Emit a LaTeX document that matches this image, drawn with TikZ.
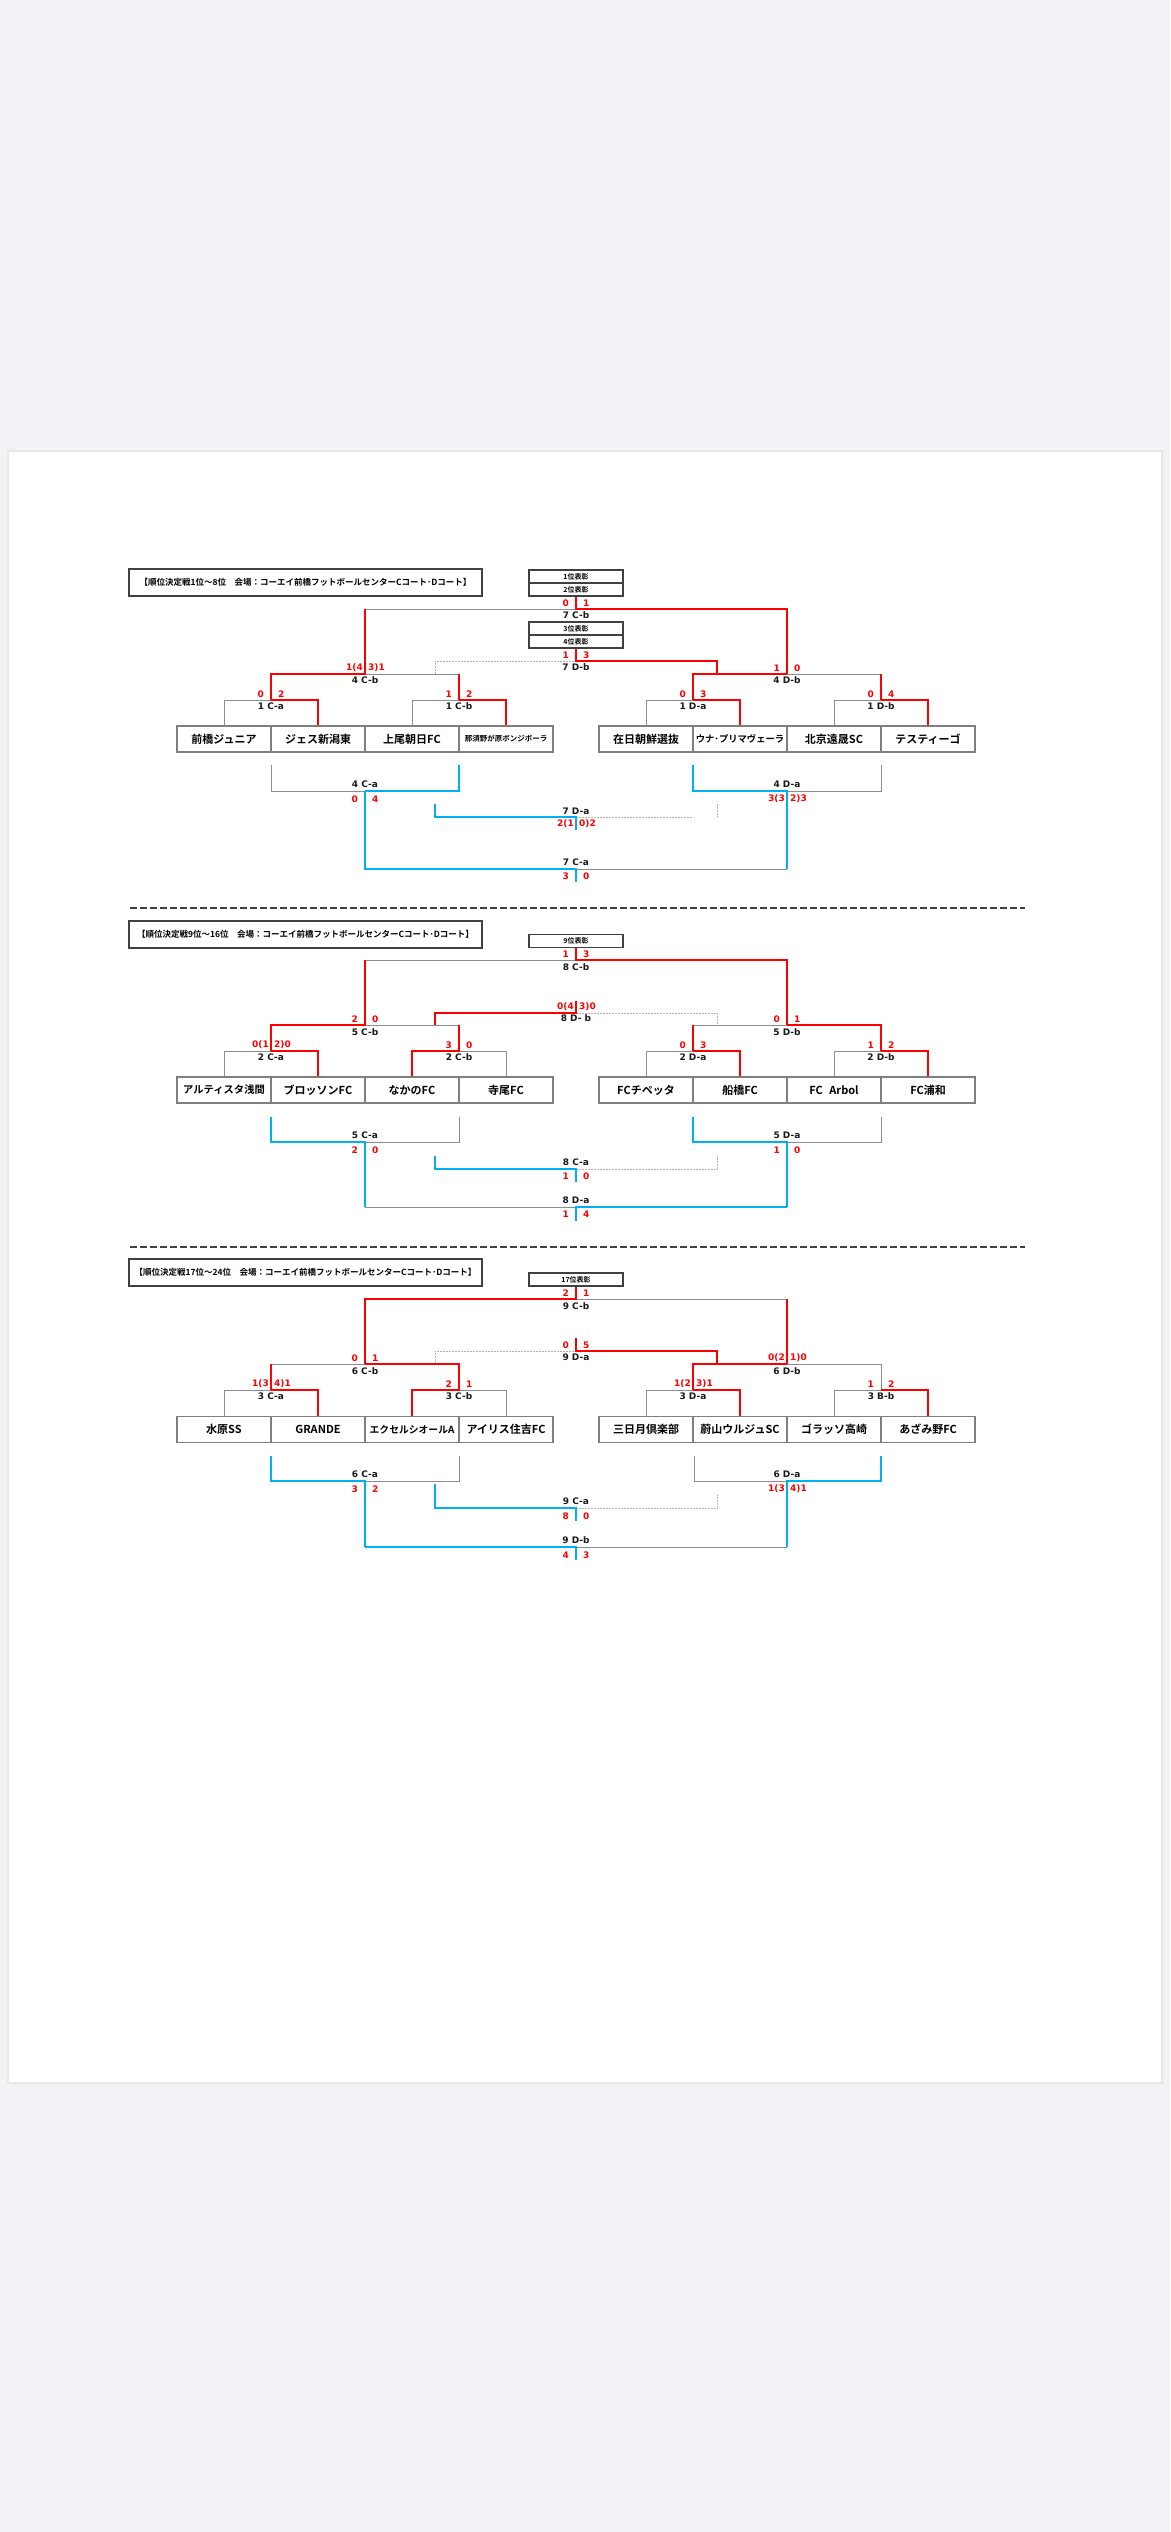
\documentclass[tikz,border=0pt]{standalone}
\usepackage{fontspec}
\newfontfamily\jpfont{Noto Sans CJK JP}[BoldFont={Noto Sans CJK JP Bold}]
\newfontfamily\numfont{DejaVu Sans}
\definecolor{pagebg}{HTML}{F2F2F7}
\definecolor{winred}{HTML}{FF0000}
\definecolor{losblue}{HTML}{00B0F0}
\definecolor{thingray}{HTML}{8C8C8C}
\definecolor{boxgray}{HTML}{7F7F7F}
\definecolor{darkframe}{HTML}{404040}
\tikzset{
  redl/.style={winred, line width=2.2pt},
  bluel/.style={losblue, line width=2.2pt},
  grayl/.style={thingray, line width=1pt},
  dotl/.style={gray!60, line width=0.7pt, dash pattern=on 2pt off 1pt},
  sepl/.style={darkframe, line width=1.3pt, dash pattern=on 6.5pt off 3.5pt},
  team/.style={draw=boxgray, line width=1.2pt, minimum width=94pt, minimum height=26pt, inner sep=0pt, font=\jpfont\bfseries\fontsize{11}{11}\selectfont},
  ttlbox/.style={draw=darkframe, line width=1.8pt, minimum width=353pt, minimum height=27pt, inner sep=0pt, font=\jpfont\bfseries\fontsize{8.5}{8.5}\selectfont},
  award/.style={draw=darkframe, line width=1.4pt, minimum width=94pt, minimum height=13pt, inner sep=0pt, font=\jpfont\bfseries\fontsize{7}{7}\selectfont},
  lbl/.style={inner sep=0pt, text=black!90, font=\numfont\bfseries\fontsize{9}{9}\selectfont},
  sc/.style={lbl, text=winred},
}
% scores left/right of a stem: single digits and PK results
\newcommand\scoreS[5]{\node[sc,anchor=east] (#1l) at (#2-7,#3) {#4};
  \node[sc,anchor=west] (#1r) at (#2+7,#3) {#5};}
\newcommand\scoreM[5]{\node[sc,anchor=east] (#1l) at (#2-2,#3) {#4};
  \node[sc,anchor=west] (#1r) at (#2+3,#3) {#5};}

\begin{document}
\begin{tikzpicture}[x=1pt,y=-1pt]
% page
\fill[pagebg] (0,0) rectangle (1170,2532);
\useasboundingbox (0,0) rectangle (1170,2532);
\fill[black!5] (5,448) rectangle (1165,2086);
\fill[black!9] (7,450) rectangle (1163,2084);
\fill[white] (9,452) rectangle (1161,2082);

%%%%%%%%%% 1st - 8th
\node[ttlbox] (ttl1) at (305.5,582.5) {【順位決定戦1位～8位　会場：コーエイ前橋フットボールセンターCコート･Dコート】};
\node[award] (aw1) at (576,576.5) {1位表彰};
\node[award] (aw2) at (576,589.5) {2位表彰};
\node[award] (aw3) at (576,628.5) {3位表彰};
\node[award] (aw4) at (576,641.5) {4位表彰};
\node[team] (tA1) at (224,739) {前橋ジュニア};
\node[team] (tA2) at (318,739) {ジェス新潟東};
\node[team] (tA3) at (412,739) {上尾朝日FC};
\node[team,font=\jpfont\bfseries\fontsize{7.5}{7.5}\selectfont] (tA4) at (506,739) {那須野が原ボンジボーラ};
\node[team] (tB1) at (646,739) {在日朝鮮選抜};
\node[team,font=\jpfont\bfseries\fontsize{9.3}{9.3}\selectfont] (tB2) at (740,739) {ウナ･プリマヴェーラ};
\node[team] (tB3) at (834,739) {北京遠晟SC};
\node[team] (tB4) at (928,739) {テスティーゴ};
% gray
\draw[grayl] (tA1.north) |- (271,700);
\draw[grayl] (tA3.north) |- (459,700);
\draw[grayl] (365,674) -- (459,674);
\draw[grayl] (365,609) -- (576,609);
\draw[grayl] (tB1.north) |- (693,700);
\draw[grayl] (tB3.north) |- (881,700);
\draw[grayl] (787,674) -- (881,674);
\draw[dotl] (435,674) |- (576,661);
% red
\draw[redl] (271,700) -| (tA2.north);
\draw[redl] (459,700) -| (tA4.north);
\draw[redl] (271,700) |- (365,674) -- (365,609);
\draw[redl] (459,700) -- (459,674);
\draw[redl] (693,700) -| (tB2.north);
\draw[redl] (881,700) -| (tB4.north);
\draw[redl] (693,700) |- (787,674);
\draw[redl] (881,700) -- (881,674);
\draw[redl] (aw2.south) -- (576,609) -| (787,674);
\draw[redl] (aw4.south) -- (576,661) -| (717,674);
% lower
\draw[grayl] (271,765) |- (365,791);
\draw[grayl] (787,791) -| (881,765);
\draw[grayl] (576,869) -- (787,869);
\draw[dotl] (576,817) -- (693,817);
\draw[dotl] (717,804) -- (717,817);
\draw[bluel] (365,791) -| (459,765);
\draw[bluel] (693,765) |- (787,791) -- (787,869);
\draw[bluel] (365,791) |- (576,869) -- (576,882);
\draw[bluel] (435,804) |- (576,817) -- (576,830);
% labels
\node[lbl] (m7cb) at (576,615) {7 C-b};  \scoreS{s7cb}{576}{603}{0}{1}
\node[lbl] (m7db) at (576,667) {7 D-b};  \scoreS{s7db}{576}{655}{1}{3}
\node[lbl] (m4cb) at (365,680) {4 C-b};  \scoreM{s4cb}{365}{668}{1(4}{3)1}
\node[lbl] (m4db) at (787,680) {4 D-b};  \scoreS{s4db}{787}{668}{1}{0}
\node[lbl] (m1ca) at (271,706) {1 C-a};  \scoreS{s1ca}{271}{694}{0}{2}
\node[lbl] (m1cb) at (459,706) {1 C-b};  \scoreS{s1cb}{459}{694}{1}{2}
\node[lbl] (m1da) at (693,706) {1 D-a};  \scoreS{s1da}{693}{694}{0}{3}
\node[lbl] (m1db) at (881,706) {1 D-b};  \scoreS{s1db}{881}{694}{0}{4}
\node[lbl] (m4ca) at (365,784) {4 C-a};  \scoreS{s4ca}{365}{799}{0}{4}
\node[lbl] (m4da) at (787,784) {4 D-a};  \scoreM{s4da}{787}{799}{3(3}{2)3}
\node[lbl] (m7da) at (576,811) {7 D-a};  \scoreM{s7da}{576}{824}{2(1}{0)2}
\node[lbl] (m7ca) at (576,862) {7 C-a};  \scoreS{s7ca}{576}{876}{3}{0}

\draw[sepl] (130,908) -- (1025,908);

%%%%%%%%%% 9th - 16th
\node[ttlbox] (ttl2) at (305.5,934.5) {【順位決定戦9位～16位　会場：コーエイ前橋フットボールセンターCコート･Dコート】};
\node[award] (aw9) at (576,941) {9位表彰};
\node[team,font=\jpfont\bfseries\fontsize{10.3}{10.3}\selectfont] (tC1) at (224,1090) {アルティスタ浅間};
\node[team] (tC2) at (318,1090) {ブロッソンFC};
\node[team] (tC3) at (412,1090) {なかのFC};
\node[team] (tC4) at (506,1090) {寺尾FC};
\node[team] (tD1) at (646,1090) {FCチペッタ};
\node[team] (tD2) at (740,1090) {船橋FC};
\node[team] (tD3) at (834,1090) {FC\hspace{0.6em}Arbol};
\node[team] (tD4) at (928,1090) {FC浦和};
% gray
\draw[grayl] (tC1.north) |- (271,1051);
\draw[grayl] (459,1051) -| (tC4.north);
\draw[grayl] (365,1025) -- (459,1025);
\draw[grayl] (365,960) -- (576,960);
\draw[grayl] (tD1.north) |- (693,1051);
\draw[grayl] (tD3.north) |- (881,1051);
\draw[grayl] (693,1025) -- (787,1025);
\draw[dotl] (576,1013) -| (717,1025);
% red
\draw[redl] (271,1051) -| (tC2.north);
\draw[redl] (tC3.north) |- (459,1051) -- (459,1025);
\draw[redl] (271,1051) |- (365,1025) -- (365,960);
\draw[redl] (693,1051) -| (tD2.north);
\draw[redl] (881,1051) -| (tD4.north);
\draw[redl] (693,1051) -- (693,1025);
\draw[redl] (881,1051) |- (787,1025);
\draw[redl] (aw9.south) -- (576,960) -| (787,1025);
\draw[redl] (435,1025) |- (576,1013) -- (576,1001);
% lower
\draw[grayl] (365,1142) -| (459,1117);
\draw[grayl] (787,1142) -| (881,1117);
\draw[grayl] (365,1207) -- (576,1207);
\draw[dotl] (576,1169) -| (717,1156);
\draw[bluel] (271,1117) |- (365,1142) -- (365,1207);
\draw[bluel] (693,1117) |- (787,1142) -- (787,1207);
\draw[bluel] (435,1156) |- (576,1169) -- (576,1182);
\draw[bluel] (576,1221) -- (576,1207) -- (787,1207);
% labels
\node[lbl] (m8cb) at (576,967) {8 C-b};   \scoreS{s8cb}{576}{954}{1}{3}
\node[lbl] (m8db) at (576,1018) {8 D- b}; \scoreM{s8db}{576}{1007}{0(4}{3)0}
\node[lbl] (m5cb) at (365,1032) {5 C-b};  \scoreS{s5cb}{365}{1019}{2}{0}
\node[lbl] (m5db) at (787,1032) {5 D-b};  \scoreS{s5db}{787}{1019}{0}{1}
\node[lbl] (m2ca) at (271,1057) {2 C-a};  \scoreM{s2ca}{271}{1045}{0(1}{2)0}
\node[lbl] (m2cb) at (459,1057) {2 C-b};  \scoreS{s2cb}{459}{1045}{3}{0}
\node[lbl] (m2da) at (693,1057) {2 D-a};  \scoreS{s2da}{693}{1045}{0}{3}
\node[lbl] (m2db) at (881,1057) {2 D-b};  \scoreS{s2db}{881}{1045}{1}{2}
\node[lbl] (m5ca) at (365,1135) {5 C-a};  \scoreS{s5ca}{365}{1150}{2}{0}
\node[lbl] (m5da) at (787,1135) {5 D-a};  \scoreS{s5da}{787}{1150}{1}{0}
\node[lbl] (m8ca) at (576,1162) {8 C-a};  \scoreS{s8ca}{576}{1176}{1}{0}
\node[lbl] (m8da) at (576,1200) {8 D-a};  \scoreS{s8da}{576}{1214}{1}{4}

\draw[sepl] (130,1247) -- (1025,1247);

%%%%%%%%%% 17th - 24th
\node[ttlbox] (ttl3) at (305.5,1272.5) {【順位決定戦17位～24位　会場：コーエイ前橋フットボールセンターCコート･Dコート】};
\node[award] (aw17) at (576,1279.5) {17位表彰};
\node[team] (tE1) at (224,1429.5) {水原SS};
\node[team] (tE2) at (318,1429.5) {GRANDE};
\node[team,font=\jpfont\bfseries\fontsize{9.8}{9.8}\selectfont] (tE3) at (412,1429.5) {エクセルシオールA};
\node[team] (tE4) at (506,1429.5) {アイリス住吉FC};
\node[team] (tF1) at (646,1429.5) {三日月倶楽部};
\node[team] (tF2) at (740,1429.5) {蔚山ウルジュSC};
\node[team] (tF3) at (834,1429.5) {ゴラッソ高崎};
\node[team] (tF4) at (928,1429.5) {あざみ野FC};
% gray
\draw[grayl] (tE1.north) |- (271,1390);
\draw[grayl] (459,1390) -| (tE4.north);
\draw[grayl] (271,1364) -- (365,1364);
\draw[grayl] (576,1299) -- (787,1299);
\draw[grayl] (tF1.north) |- (693,1390);
\draw[grayl] (tF3.north) |- (881,1390);
\draw[grayl] (881,1390) |- (787,1364);
\draw[dotl] (435,1364) |- (576,1351);
% red
\draw[redl] (271,1390) -| (tE2.north);
\draw[redl] (271,1390) -- (271,1364);
\draw[redl] (tE3.north) |- (459,1390) |- (365,1364);
\draw[redl] (365,1364) |- (576,1299) -- (aw17.south);
\draw[redl] (787,1299) -- (787,1364);
\draw[redl] (693,1390) -| (tF2.north);
\draw[redl] (881,1390) -| (tF4.north);
\draw[redl] (693,1390) |- (787,1364);
\draw[redl] (576,1338) -- (576,1351) -| (717,1364);
% lower
\draw[grayl] (365,1481) -| (459,1456);
\draw[grayl] (694,1456) |- (787,1481);
\draw[grayl] (576,1547) -- (787,1547);
\draw[dotl] (576,1508) -| (717,1495);
\draw[bluel] (271,1456) |- (365,1481) -- (365,1547);
\draw[bluel] (881,1456) |- (787,1481) -- (787,1547);
\draw[bluel] (435,1484) |- (576,1508) -- (576,1521);
\draw[bluel] (365,1547) -- (576,1547) -- (576,1560);
% labels
\node[lbl] (m9cb) at (576,1306) {9 C-b};  \scoreS{s9cb}{576}{1293}{2}{1}
\node[lbl] (m9da) at (576,1357) {9 D-a};  \scoreS{s9da}{576}{1345}{0}{5}
\node[lbl] (m6cb) at (365,1371) {6 C-b};  \scoreS{s6cb}{365}{1358}{0}{1}
\node[lbl] (m6db) at (787,1371) {6 D-b};  \scoreM{s6db}{787}{1358}{0(2}{1)0}
\node[lbl] (m3ca) at (271,1396) {3 C-a};  \scoreM{s3ca}{271}{1384}{1(3}{4)1}
\node[lbl] (m3cb) at (459,1396) {3 C-b};  \scoreS{s3cb}{459}{1384}{2}{1}
\node[lbl] (m3da) at (693,1396) {3 D-a};  \scoreM{s3da}{693}{1384}{1(2}{3)1}
\node[lbl] (m3bb) at (881,1396) {3 B-b};  \scoreS{s3bb}{881}{1384}{1}{2}
\node[lbl] (m6ca) at (365,1474) {6 C-a};  \scoreS{s6ca}{365}{1489}{3}{2}
\node[lbl] (m6da) at (787,1474) {6 D-a};  \scoreM{s6da}{787}{1489}{1(3}{4)1}
\node[lbl] (m9ca) at (576,1501) {9 C-a};  \scoreS{s9ca}{576}{1516}{8}{0}
\node[lbl] (m9db) at (576,1540) {9 D-b};  \scoreS{s9db}{576}{1555}{4}{3}
\end{tikzpicture}
\end{document}
